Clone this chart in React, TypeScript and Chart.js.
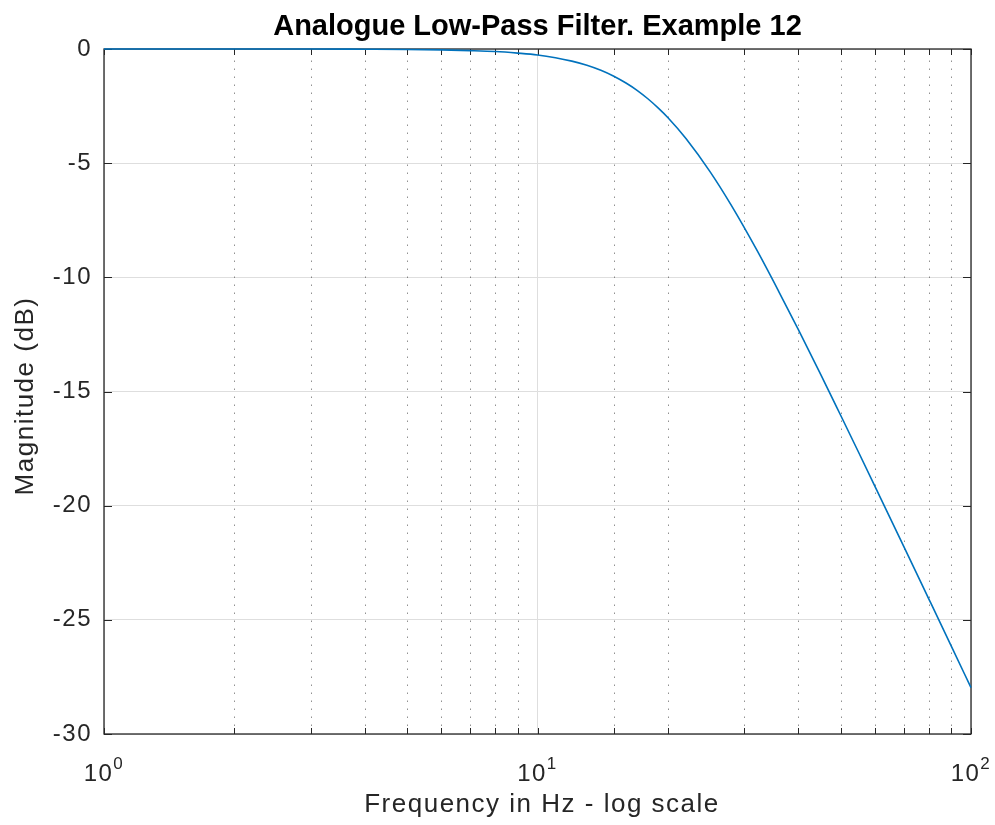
import React, { useEffect, useRef } from 'react';
import { Chart, registerables } from 'chart.js';

Chart.register(...registerables);

// ---- data ----
const frequencyHz = [1, 2, 3, 4, 5, 6, 7, 8, 9, 10, 11, 12, 13, 14, 15, 16, 17, 18, 19, 20, 22, 25, 28, 32, 36, 40, 45, 50, 55, 60, 70, 80, 90, 100];
const magnitudeDb = [0, 0, 0, -0.01, -0.02, -0.04, -0.07, -0.11, -0.18, -0.26, -0.38, -0.53, -0.71, -0.93, -1.19, -1.49, -1.82, -2.19, -2.59, -3.01, -3.92, -5.37, -6.85, -8.78, -10.61, -12.3, -14.25, -16.03, -17.65, -19.14, -21.79, -24.1, -26.14, -27.97];

const yTickValues = [0, -5, -10, -15, -20, -25, -30];
const xMajorTickValues = [1, 10, 100];
const xTickBase = ['10', '10', '10'];
const xTickExponent = ['0', '1', '2'];

const titleText = 'Analogue Low-Pass Filter. Example 12';
const xAxisTitle = 'Frequency in Hz - log scale';
const yAxisTitle = 'Magnitude (dB)';

const FONT = '"Liberation Sans", Arial, Helvetica, sans-serif';
const INK = '#262626';

export default function App() {
  const ref = useRef<HTMLCanvasElement>(null);

  useEffect(() => {
    document.body.style.margin = '0';
    const canvas = ref.current;
    if (!canvas) return;

    const decor = {
      id: 'matlabDecor',
      beforeDraw(chart: any) {
        const ctx = chart.ctx;
        ctx.save();
        ctx.fillStyle = '#ffffff';
        ctx.fillRect(0, 0, chart.width, chart.height);
        ctx.restore();
        (ctx as any).letterSpacing = '1.5px';
      },
      beforeDatasetsDraw(chart: any) {
        const ctx = chart.ctx;
        const a = chart.chartArea;
        const xs = chart.scales.x;
        const ys = chart.scales.y;
        ctx.save();
        // minor dotted x grid
        ctx.strokeStyle = 'rgba(38,38,38,0.5)';
        ctx.lineWidth = 1;
        ctx.setLineDash([1.5, 6.5]);
        for (const t of xs.ticks) {
          const lg = Math.log10(t.value);
          if (Math.abs(lg - Math.round(lg)) < 1e-9) continue;
          const px = Math.round(xs.getPixelForValue(t.value)) + 0.5;
          ctx.beginPath();
          ctx.moveTo(px, a.bottom);
          ctx.lineTo(px, a.top);
          ctx.stroke();
        }
        ctx.setLineDash([]);
        // box
        ctx.strokeStyle = INK;
        ctx.lineWidth = 1.3;
        ctx.strokeRect(a.left, a.top, a.right - a.left, a.bottom - a.top);
        // inward tick marks
        ctx.lineWidth = 1;
        for (const t of xs.ticks) {
          const px = Math.round(xs.getPixelForValue(t.value)) + 0.5;
          ctx.beginPath();
          ctx.moveTo(px, a.bottom);
          ctx.lineTo(px, a.bottom - 6);
          ctx.moveTo(px, a.top);
          ctx.lineTo(px, a.top + 6);
          ctx.stroke();
        }
        for (const v of yTickValues) {
          const py = Math.round(ys.getPixelForValue(v)) + 0.5;
          ctx.beginPath();
          ctx.moveTo(a.left, py);
          ctx.lineTo(a.left + 8, py);
          ctx.moveTo(a.right, py);
          ctx.lineTo(a.right - 8, py);
          ctx.stroke();
        }
        ctx.restore();
      },
      afterDraw(chart: any) {
        const ctx = chart.ctx;
        const a = chart.chartArea;
        const xs = chart.scales.x;
        ctx.save();
        // title
        (ctx as any).letterSpacing = '0px';
        ctx.fillStyle = '#000000';
        ctx.font = `bold 29px ${FONT}`;
        ctx.textAlign = 'center';
        ctx.textBaseline = 'alphabetic';
        ctx.fillText(titleText, (a.left + a.right) / 2, 35);

        // x tick labels with superscripts
        ctx.fillStyle = INK;
        (ctx as any).letterSpacing = '1.5px';
        ctx.textAlign = 'left';
        xMajorTickValues.forEach((v, i) => {
          const px = xs.getPixelForValue(v);
          ctx.font = `24px ${FONT}`;
          const wb = ctx.measureText(xTickBase[i]).width;
          ctx.font = `17px ${FONT}`;
          const we = ctx.measureText(xTickExponent[i]).width;
          const start = px - (wb + we) / 2;
          ctx.font = `24px ${FONT}`;
          ctx.fillText(xTickBase[i], start, 781);
          ctx.font = `17px ${FONT}`;
          ctx.fillText(xTickExponent[i], start + wb, 769);
        });

        // x axis title
        ctx.font = `26px ${FONT}`;
        ctx.textAlign = 'center';
        ctx.fillText(xAxisTitle, 542, 812);

        // y axis title
        ctx.translate(33, 396);
        ctx.rotate(-Math.PI / 2);
        ctx.fillText(yAxisTitle, 0, 0);
        ctx.restore();
        (ctx as any).letterSpacing = '0px';
      },
    };

    const chart = new Chart(canvas, {
      type: 'line',
      data: {
        datasets: [
          {
            data: frequencyHz.map((f, i) => ({ x: f, y: magnitudeDb[i] })),
            borderColor: '#0072BD',
            borderWidth: 1.6,
            pointRadius: 0,
            fill: false,
            cubicInterpolationMode: 'monotone',
            clip: 4,
          } as any,
        ],
      },
      options: {
        animation: false,
        responsive: false,
        devicePixelRatio: 1,
        layout: { padding: { top: 49, bottom: 91, left: 0, right: 24 } },
        plugins: {
          legend: { display: false },
          tooltip: { enabled: false },
          title: { display: false },
        },
        scales: {
          x: {
            type: 'logarithmic',
            min: 1,
            max: 100,
            border: { display: false },
            ticks: { display: false },
            grid: {
              drawTicks: false,
              lineWidth: 1,
              color: (ctx: any) => {
                const v = ctx.tick ? ctx.tick.value : 0;
                const lg = Math.log10(v);
                return Math.abs(lg - Math.round(lg)) < 1e-9 ? '#dedede' : 'rgba(0,0,0,0)';
              },
            },
            afterFit: (s: any) => {
              s.height = 0;
            },
          },
          y: {
            type: 'linear',
            min: -30,
            max: 0,
            border: { display: false },
            afterBuildTicks: (s: any) => {
              s.ticks = yTickValues.map((v) => ({ value: v }));
            },
            ticks: {
              color: INK,
              padding: 12,
              font: { family: FONT, size: 24 },
              callback: (v: any) => String(v),
            },
            grid: { drawTicks: false, color: '#dedede', lineWidth: 1 },
            afterFit: (s: any) => {
              s.width = 104;
            },
          },
        },
      },
      plugins: [decor],
    } as any);

    return () => chart.destroy();
  }, []);

  return (
    <div style={{ position: 'fixed', left: 0, top: 0, width: 995, height: 825, background: '#fff' }}>
      <canvas ref={ref} width={995} height={825} style={{ width: 995, height: 825, display: 'block' }} />
    </div>
  );
}
